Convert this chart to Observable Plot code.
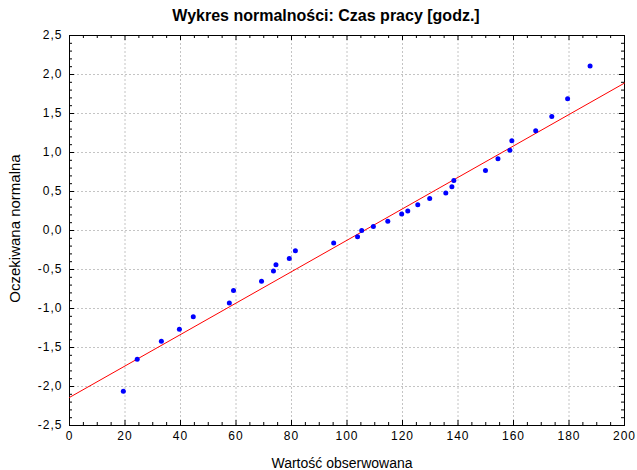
<!DOCTYPE html>
<html>
<head>
<meta charset="utf-8">
<script src="https://cdn.jsdelivr.net/npm/d3@7"></script>
<script src="https://cdn.jsdelivr.net/npm/@observablehq/plot@0.6"></script>
<style>
  html, body { margin: 0; padding: 0; background: #fff; }
  #title { width: 637px; height: 26px; line-height: 21px; box-sizing: border-box; padding-top: 5px; padding-left: 15px; text-align: center;
    font-family: "Liberation Sans", Arial, sans-serif; font-weight: bold; font-size: 16px; color: #000; white-space: nowrap; }
  g[aria-label="x-axis tick label"] text, g[aria-label="y-axis tick label"] text { letter-spacing: 1px; }
</style>
</head>
<body>
<div id="title">Wykres normalności: Czas pracy [godz.]</div>
<div id="chart"></div>
<script>
// Observed values (hours)
const observed = [19.4, 24.4, 33.1, 39.6, 44.6, 57.6, 59.1, 69.2, 73.5, 74.4, 79.2, 81.4, 95.2, 103.8, 105.3, 109.5,
  114.7, 119.7, 121.9, 125.5, 129.8, 135.6, 137.8, 138.5, 149.9, 154.4, 158.7, 159.4, 168.0, 173.8, 179.5, 187.6];
// Expected normal values
const expected = [-2.06, -1.65, -1.42, -1.265, -1.106, -0.93, -0.77, -0.65, -0.52, -0.44, -0.36, -0.26, -0.16, -0.08, 0.0, 0.05,
  0.12, 0.21, 0.25, 0.33, 0.41, 0.48, 0.56, 0.64, 0.77, 0.92, 1.03, 1.15, 1.28, 1.46, 1.69, 2.11];
// Reference line endpoints
const lineX = [0, 200];
const lineY = [-2.14, 1.89];
// Tick values
const xTicks = [0, 20, 40, 60, 80, 100, 120, 140, 160, 180, 200];
const yTicks = [-2.5, -2.0, -1.5, -1.0, -0.5, 0.0, 0.5, 1.0, 1.5, 2.0, 2.5];
const xMinor = d3.range(0, 201, 5).filter(v => v % 20 !== 0);
const yMinor = d3.range(-25, 26, 1).filter(v => v % 5 !== 0).map(v => v / 10);
const xLabel = "Wartość obserwowana";
const yLabel = "Oczekiwana normalna";

const W = 637, H = 444, mL = 69, mR = 13, mT = 9, mB = 45;
const iw = W - mL - mR, ih = H - mT - mB;
const pts = observed.map((x, i) => ({x, y: expected[i]}));
const ln = lineX.map((x, i) => ({x, y: lineY[i]}));
const fmtY = d => d.toFixed(1).replace(".", ",");
const gridX = xTicks.slice(1, -1), gridY = yTicks.slice(1, -1);

const chart = Plot.plot({
  width: W, height: H,
  marginLeft: mL, marginRight: mR, marginTop: mT, marginBottom: mB,
  style: {fontFamily: '"Liberation Sans", Arial, sans-serif', background: "#fff", color: "#000", overflow: "visible"},
  x: {domain: [0, 200]},
  y: {domain: [-2.5, 2.5]},
  marks: [
    Plot.ruleX(gridX, {stroke: "#c4c4c4", strokeDasharray: "2,2", strokeWidth: 1}),
    Plot.ruleY(gridY, {stroke: "#c4c4c4", strokeDasharray: "2,2", strokeWidth: 1}),
    // inward ticks on all four sides
    Plot.ruleX(xTicks, {insetTop: ih - 5, stroke: "#000"}),
    Plot.ruleX(xTicks, {insetBottom: ih - 5, stroke: "#000"}),
    Plot.ruleX(xMinor, {insetTop: ih - 3, stroke: "#000"}),
    Plot.ruleX(xMinor, {insetBottom: ih - 3, stroke: "#000"}),
    Plot.ruleY(yTicks, {insetRight: iw - 5, stroke: "#000"}),
    Plot.ruleY(yTicks, {insetLeft: iw - 5, stroke: "#000"}),
    Plot.ruleY(yMinor, {insetRight: iw - 3, stroke: "#000"}),
    Plot.ruleY(yMinor, {insetLeft: iw - 3, stroke: "#000"}),
    Plot.frame({stroke: "#000"}),
    Plot.axisX(xTicks, {tickSize: 0, tickPadding: 6, fontSize: 12, label: null}),
    Plot.axisY(yTicks, {tickSize: 0, tickPadding: 7, fontSize: 12, tickFormat: fmtY, label: null}),
    Plot.line(ln, {x: "x", y: "y", stroke: "#ff0000", strokeWidth: 1}),
    Plot.dot(pts, {x: "x", y: "y", r: 2.5, fill: "#0000ff", stroke: "none"}),
    Plot.text([xLabel], {text: d => d, frameAnchor: "bottom", dy: 42, dx: -5, lineAnchor: "bottom", fontSize: 14, fill: "#000"}),
    Plot.text([yLabel], {text: d => d, frameAnchor: "left", textAnchor: "middle", dx: -54, dy: -2, rotate: -90, fontSize: 15, fill: "#000"})
  ]
});
document.getElementById("chart").appendChild(chart);
</script>
</body>
</html>
